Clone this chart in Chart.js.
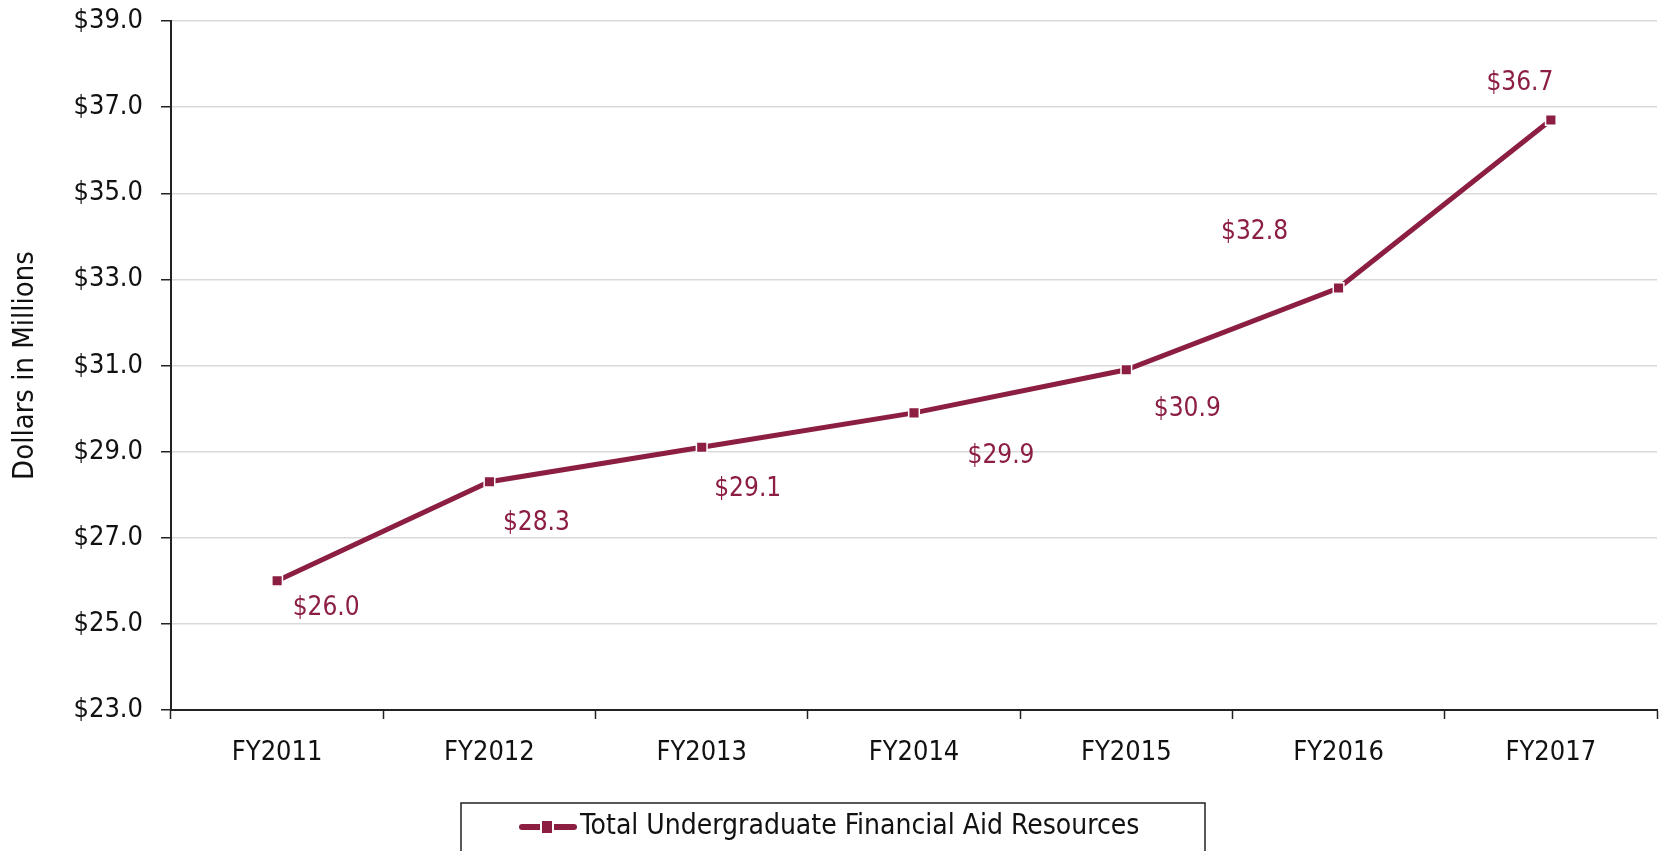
<!DOCTYPE html>
<html>
<head>
<meta charset="utf-8">
<title>Total Undergraduate Financial Aid Resources</title>
<script src="https://cdn.jsdelivr.net/npm/chart.js@4.4.1/dist/chart.umd.min.js"></script>
<style>
  body { margin: 0; background: #fff; }
  canvas { display: block; }
</style>
</head>
<body>
<canvas id="aidChart" width="1661" height="851"></canvas>
<script>
var years = ['FY2011', 'FY2012', 'FY2013', 'FY2014', 'FY2015', 'FY2016', 'FY2017'];
var aidTotals = [26.0, 28.3, 29.1, 29.9, 30.9, 32.8, 36.7];
var seriesName = 'Total Undergraduate Financial Aid Resources';
var axisTitle = 'Dollars in Millions';

var FONT = "'Liberation Sans Narrow', 'Arial Narrow', 'DejaVu Sans Condensed', sans-serif";
var MAROON = '#8b1e41';

// where each value label sits relative to its point (dx, dy)
var labelOffsets = [[49, 27], [47, 41], [46, 42], [87, 43], [61, 39], [-84, -56], [-31, -37]];

var valueLabels = {
    id: 'valueLabels',
    afterDatasetsDraw(chart) {
        const ctx = chart.ctx;
        const meta = chart.getDatasetMeta(0);
        ctx.save();
        ctx.font = '26px ' + FONT;
        ctx.fillStyle = MAROON;
        ctx.textAlign = 'center';
        ctx.textBaseline = 'middle';
        meta.data.forEach((pt, i) => {
            const off = labelOffsets[i];
            ctx.fillText('$' + aidTotals[i].toFixed(1), pt.x + off[0], pt.y + off[1]);
        });
        ctx.restore();
    }
};

// boxed legend under the axis
var boxLegend = {
    id: 'boxLegend',
    afterDraw(chart) {
        const ctx = chart.ctx;
        ctx.save();
        ctx.strokeStyle = '#222';
        ctx.lineWidth = 1.5;
        ctx.strokeRect(461, 803, 744, 60);
        const y = 827;
        ctx.strokeStyle = MAROON;
        ctx.lineWidth = 6;
        ctx.lineCap = 'round';
        ctx.beginPath();
        ctx.moveTo(522, y);
        ctx.lineTo(574, y);
        ctx.stroke();
        ctx.fillStyle = '#fff';
        ctx.fillRect(540, y - 8, 14, 16);
        ctx.fillStyle = MAROON;
        ctx.fillRect(542, y - 6, 10, 12);
        ctx.font = '28px ' + FONT;
        ctx.fillStyle = '#111';
        ctx.textAlign = 'left';
        ctx.textBaseline = 'middle';
        ctx.fillText(seriesName, 580, y);
        ctx.restore();
    }
};

const ctx = document.getElementById('aidChart').getContext('2d');

new Chart(ctx, {
    type: 'line',
    data: {
        labels: years,
        datasets: [{
            label: seriesName,
            data: aidTotals,
            borderColor: MAROON,
            backgroundColor: MAROON,
            borderWidth: 5,
            tension: 0,
            pointStyle: 'rect',
            pointRadius: 7.5,
            pointBorderColor: '#fff',
            pointBorderWidth: 1.5,
            pointBackgroundColor: MAROON
        }]
    },
    options: {
        responsive: false,
        animation: false,
        layout: {
            autoPadding: false,
            padding: { top: 21, right: 4, left: 0, bottom: 0 }
        },
        plugins: {
            legend: { display: false },
            tooltip: { enabled: false }
        },
        scales: {
            x: {
                offset: true,
                grid: {
                    offset: true,
                    drawOnChartArea: false,
                    drawTicks: true,
                    tickLength: 9,
                    tickColor: '#222',
                    tickWidth: 1.5
                },
                border: { color: '#222', width: 2 },
                ticks: {
                    color: '#111',
                    font: { family: FONT, size: 27 },
                    padding: 18,
                    maxRotation: 0
                },
                afterFit(axis) {
                    axis.height = 141;
                    axis.paddingLeft = 0;
                    axis.paddingRight = 0;
                }
            },
            y: {
                min: 23,
                max: 39,
                ticks: {
                    stepSize: 2,
                    color: '#111',
                    font: { family: FONT, size: 27 },
                    padding: 18,
                    callback: v => '$' + v.toFixed(1)
                },
                grid: {
                    color: '#d9d9d9',
                    lineWidth: 1.5,
                    tickLength: 10,
                    tickColor: '#222',
                    tickWidth: 1.5
                },
                border: { color: '#222', width: 2 },
                title: {
                    display: true,
                    text: axisTitle,
                    color: '#111',
                    font: { family: FONT, size: 29 },
                    padding: { top: 8, bottom: 0 }
                },
                afterFit(axis) {
                    axis.width = 171;
                    axis.paddingTop = 0;
                    axis.paddingBottom = 0;
                }
            }
        }
    },
    plugins: [valueLabels, boxLegend]
});
</script>
</body>
</html>
